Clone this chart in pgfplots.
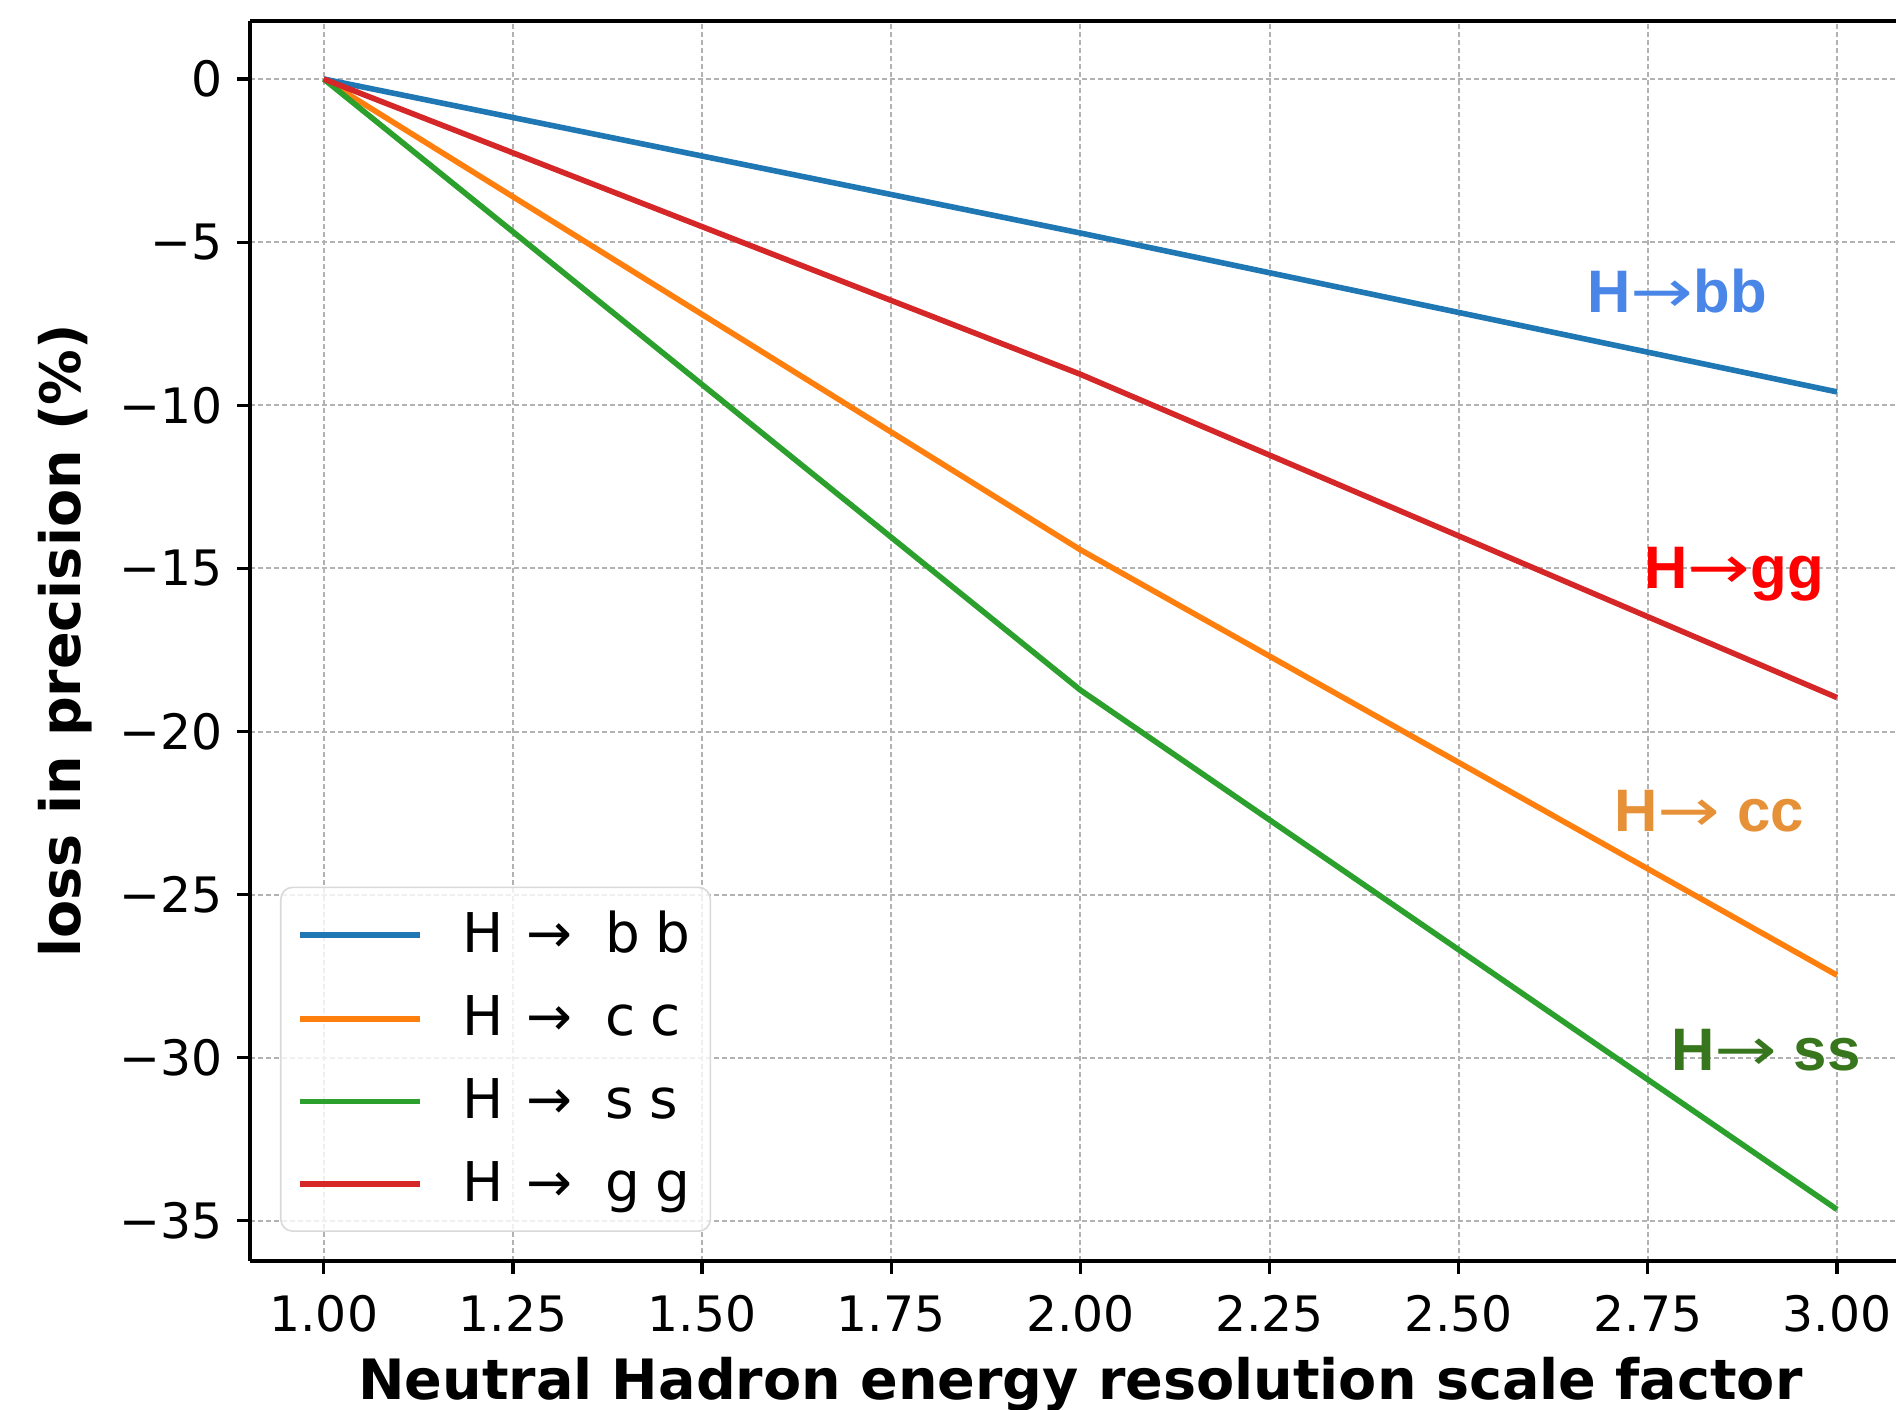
\documentclass[border=0pt]{standalone}
\usepackage{fontspec}
\setmainfont{DejaVu Sans}
\newfontfamily\annfont{Liberation Sans}
\newfontfamily\arrowfont{DejaVu Sans}
\usepackage{pgfplots}
\pgfplotsset{compat=1.18}

\definecolor{tabblue}{HTML}{1F77B4}
\definecolor{taborange}{HTML}{FF7F0E}
\definecolor{tabgreen}{HTML}{2CA02C}
\definecolor{tabred}{HTML}{D62728}
\definecolor{annblue}{HTML}{4A86E8}
\definecolor{annred}{HTML}{FF0000}
\definecolor{annorange}{HTML}{E69138}
\definecolor{anngreen}{HTML}{38761D}

\newcommand{\annarrow}{{\arrowfont\mdseries\scalebox{1.25}[1]{→}}}
\newcommand{\legtext}[2]{H\hspace{0.42em}→\hspace{0.6em}#1\hspace{0.28em}#2}

\begin{document}
\begin{tikzpicture}
\useasboundingbox (-62.5pt,-37.25pt) rectangle (411.5pt,315.25pt);
\begin{axis}[
  at={(0,0)}, anchor=south west,
  scale only axis, width=411.5pt, height=310pt,
  xmin=0.9025, xmax=3.078, ymin=-36.23, ymax=1.78,
  axis x line=box, axis y line=left,
  every non boxed y axis/.append style={y axis line style={-}, ytick align=outside},
  axis line style={-, line width=0.8pt, black},
  xtick={1,1.25,1.5,1.75,2,2.25,2.5,2.75,3},
  xticklabels={1.00,1.25,1.50,1.75,2.00,2.25,2.50,2.75,3.00},
  ytick={-35,-30,-25,-20,-15,-10,-5,0},
  yticklabels={−35,−30,−25,−20,−15,−10,−5,0},
  xtick pos=left,
  tick align=outside, major tick length=3.3pt,
  tick style={black, line width=0.8pt},
  grid=major,
  major grid style={black!30, line width=0.5pt, dash pattern=on 1.2pt off 0.8pt},
  tick label style={font=\fontsize{12.2}{14}\selectfont},
  xticklabel style={yshift=-1.8pt},
  xlabel={Neutral Hadron energy resolution scale factor},
  ylabel={loss in precision (\%)},
  label style={font=\fontsize{13.9}{16}\selectfont\bfseries},
  xlabel style={at={(ticklabel cs:0.5045)}, yshift=0.6pt},
  legend cell align=left,
  legend image code/.code={\draw[#1] (0pt,0pt) -- (30pt,0pt);},
  legend style={at={(axis description cs:0,0)}, anchor=south west,
    xshift=7.5pt, yshift=7.25pt, draw=black!15, rounded corners=3pt,
    fill=white, fill opacity=0.8, text opacity=1,
    font=\fontsize{13.7}{16}\selectfont,
    inner xsep=4pt, inner ysep=5pt, row sep=7.2pt,
    nodes={inner sep=1pt},
    /tikz/every odd column/.style={column sep=9pt}},
]
\addplot[tabblue, line width=1.4pt] coordinates {(1,0) (2,-4.72) (3,-9.59)};
\addlegendentry{\legtext{b}{b}}
\addplot[taborange, line width=1.4pt] coordinates {(1,0) (2,-14.43) (3,-27.47)};
\addlegendentry{\legtext{c}{c}}
\addplot[tabgreen, line width=1.4pt] coordinates {(1,0) (2,-18.73) (3,-34.65)};
\addlegendentry{\legtext{s}{s}}
\addplot[tabred, line width=1.4pt] coordinates {(1,0) (2,-9.05) (3,-18.96)};
\addlegendentry{\legtext{g}{g}}

\node[font=\annfont\bfseries\fontsize{15}{18}\selectfont, text=annblue] at (axis cs:2.789,-6.49) {H\annarrow bb};
\node[font=\annfont\bfseries\fontsize{15}{18}\selectfont, text=annred] at (axis cs:2.864,-15.17) {H\annarrow gg};
\node[font=\annfont\bfseries\fontsize{15}{18}\selectfont, text=annorange] at (axis cs:2.831,-22.43) {H\annarrow\ cc};
\node[font=\annfont\bfseries\fontsize{15}{18}\selectfont, text=anngreen] at (axis cs:2.906,-29.77) {H\annarrow\ ss};
\end{axis}
\end{tikzpicture}
\end{document}
